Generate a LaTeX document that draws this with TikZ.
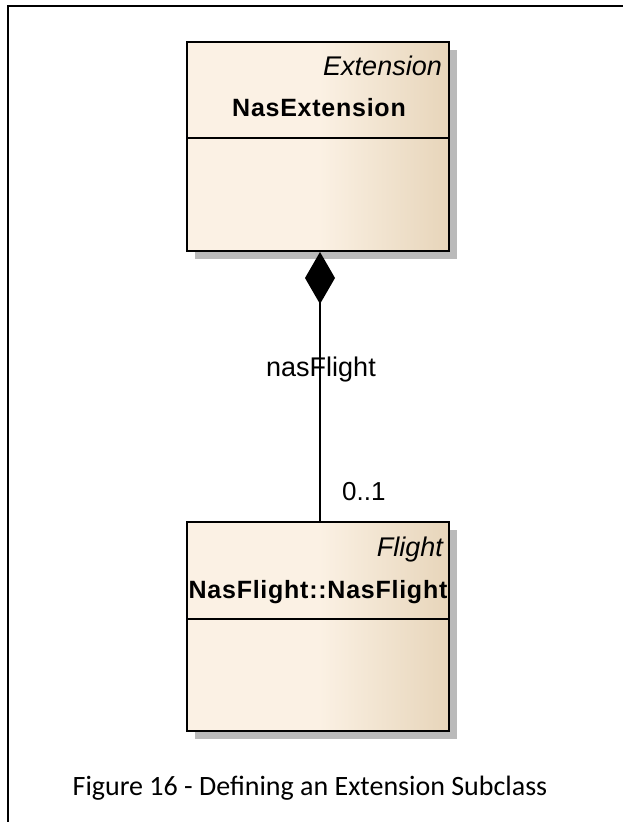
\documentclass[tikz,border=0pt]{standalone}
\usepackage{fontspec}
\setmainfont{Liberation Sans}
\newfontfamily\capfont{Carlito}
\newfontfamily\spacedfont[LetterSpace=3]{Liberation Sans}
\usepackage{tikz}
\usetikzlibrary{arrows.meta,shadows}
\usetikzlibrary{positioning}
\definecolor{boxcream}{RGB}{251,241,228}
\definecolor{boxtan}{RGB}{231,213,186}
\pgfdeclarehorizontalshading{umlfill}{100bp}{color(0bp)=(boxcream); color(25bp)=(boxcream); color(50bp)=(boxcream); color(75bp)=(boxtan); color(100bp)=(boxtan)}
\tikzset{
    umlclass/.style={
           rectangle,
           draw=black, line width=2pt,
           minimum width=262pt,
           minimum height=209pt,
           shading=umlfill,
           drop shadow={shadow xshift=8pt, shadow yshift=-8pt, fill=black!27, opacity=1},
           },
}
\tikzset{
    stereo/.style={
           inner sep=0pt,
           anchor=base east,
           font=\fontsize{27}{30}\selectfont\itshape,
           },
    cname/.style={
           inner sep=0pt,
           anchor=base,
           font=\fontsize{25}{29}\selectfont\spacedfont\bfseries,
           },
    role/.style={
           inner sep=0pt,
           font=\fontsize{27}{30}\selectfont,
           },
}

\begin{document}
\begin{tikzpicture}[x=1pt,y=1pt]
\useasboundingbox (0,0) rectangle (623,-822);
\fill[white] (-6,6) rectangle (629,-828);
% frame
\coordinate (fc) at (8,-6);
\draw[line width=2.5pt] (623,-6) -- (fc) -- (8,-822);
% classes
\node[umlclass] (ext) at (318,-146.5) {};
\node[umlclass,below = 269pt of ext] (flt) {};
\node[stereo] (extst) at ([xshift=-8pt,yshift=-34pt]ext.north east) {Extension};
\node[cname] (extnm) at ([xshift=1pt,yshift=-75pt]ext.north) {NasExtension};
\draw[line width=2pt] ([yshift=-97pt]ext.north west) -- ([yshift=-97pt]ext.north east);
\node[stereo] (fltst) at ([xshift=-7pt,yshift=-35pt]flt.north east) {Flight};
\node[cname] (fltnm) at ([xshift=0pt,yshift=-77pt]flt.north) {NasFlight::NasFlight};
\draw[line width=2pt] ([yshift=-98pt]flt.north west) -- ([yshift=-98pt]flt.north east);
% composition
\draw[line width=2pt,-{Diamond[length=52pt,width=30pt]}] ([xshift=2pt]flt.north) -- ([xshift=2pt]ext.south);
\node[role,anchor=base] (rolenm) at ([xshift=3pt,yshift=-124pt]ext.south) {nasFlight};
\node[role,anchor=base west,font=\fontsize{26}{30}\selectfont] (mult) at ([xshift=24pt,yshift=21pt]flt.north) {0..1};
% caption
\node[inner sep=0pt,anchor=base,font=\fontsize{28}{32}\selectfont\capfont] (cap) at (310,-795) {Figure 16 - Defining an Extension Subclass};
\end{tikzpicture}
\end{document}
